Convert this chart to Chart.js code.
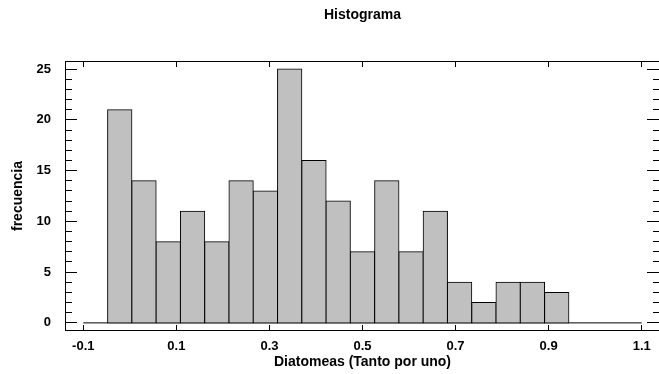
<!DOCTYPE html>
<html><head><meta charset="utf-8">
<script src="https://cdn.jsdelivr.net/npm/chart.js@4/dist/chart.umd.min.js"></script>
<style>html,body{margin:0;padding:0;background:#fff}</style>
</head><body>
<canvas id="c" width="659" height="374" style="display:block;width:659px;height:374px"></canvas>
<script>
// ---- data ----
const binCenters = [-0.0739, -0.0217, 0.0304, 0.0826, 0.1348, 0.1870, 0.2391, 0.2913,
  0.3435, 0.3957, 0.4478, 0.5000, 0.5522, 0.6043, 0.6565, 0.7087, 0.7609, 0.8130,
  0.8652, 0.9174, 0.9696, 1.0217, 1.0739];
const frequencies = [0, 21, 14, 8, 11, 8, 14, 13, 25, 16, 12, 7, 14, 7, 11, 4, 2, 4, 4, 3, 0, 0, 0];
const histRange = [-0.1, 1.1];
const xTickValues = [-0.1, 0.1, 0.3, 0.5, 0.7, 0.9, 1.1];
const yTickValues = [0, 5, 10, 15, 20, 25];
const yMinorTickValues = [0, 1, 2, 3, 4, 5, 6, 7, 8, 9, 10, 11, 12, 13, 14, 15, 16, 17, 18, 19, 20, 21, 22, 23, 24, 25];
const chartTitle = 'Histograma';
const xTitle = 'Diatomeas (Tanto por uno)';
const yTitle = 'frecuencia';

const FONT = "'Liberation Sans', Arial, Helvetica, sans-serif";

const frameTicks = {
  id: 'frameTicks',
  afterDatasetsDraw(chart) {
    const {ctx, chartArea: a, scales: {x, y}} = chart;
    ctx.save();
    ctx.strokeStyle = '#000';
    ctx.lineWidth = 1;
    ctx.beginPath();
    // frame: left, bottom, top
    ctx.moveTo(a.left - 0.5, a.top); ctx.lineTo(a.left - 0.5, a.bottom);
    ctx.moveTo(a.left - 1, a.bottom - 0.5); ctx.lineTo(a.right, a.bottom - 0.5);
    ctx.moveTo(a.left - 1, a.top + 0.5); ctx.lineTo(a.right, a.top + 0.5);
    yMinorTickValues.forEach(v => {
      const p = Math.floor(y.getPixelForValue(v)) + 0.5;
      const major = yTickValues.includes(v);
      ctx.moveTo(a.left, p); ctx.lineTo(a.left + (major ? 11 : 6), p);
      ctx.moveTo(a.right, p); ctx.lineTo(a.right - (major ? 12 : 6), p);
    });
    xTickValues.forEach(v => {
      const p = Math.floor(x.getPixelForValue(v)) + 0.5;
      ctx.moveTo(p, a.bottom); ctx.lineTo(p, a.bottom - 6);
      ctx.moveTo(p, a.top); ctx.lineTo(p, a.top + 6);
    });
    ctx.stroke();
    ctx.restore();
  }
};

new Chart(document.getElementById('c'), {
  data: {
    datasets: [
      {
        type: 'bar',
        order: 1,
        data: binCenters.map((c, i) => ({x: c, y: frequencies[i]})),
        backgroundColor: '#c0c0c0',
        borderColor: '#000',
        borderWidth: 1,
        borderSkipped: false,
        inflateAmount: 0.5,
        barPercentage: 1,
        categoryPercentage: 1
      },
      {
        type: 'line',
        order: 2,
        data: histRange.map(v => ({x: v, y: 0})),
        borderColor: '#000',
        borderWidth: 1,
        pointRadius: 0,
        fill: false
      }
    ]
  },
  options: {
    responsive: false,
    animation: false,
    events: [],
    layout: {padding: 0},
    plugins: {
      legend: {display: false},
      tooltip: {enabled: false},
      title: {
        display: true,
        text: chartTitle,
        fullSize: false,
        color: '#000',
        font: {family: FONT, size: 14, weight: 'bold', lineHeight: 1.2},
        padding: {top: 6.75, bottom: 37.45}
      }
    },
    scales: {
      x: {
        type: 'linear',
        offset: false,
        min: -0.1372,
        max: 1.1372,
        grid: {display: false, offset: false},
        border: {display: false},
        afterBuildTicks: s => { s.ticks = xTickValues.map(v => ({value: v})); },
        afterFit: s => { s.height = 43; },
        ticks: {
          color: '#000',
          padding: 0,
          maxRotation: 0,
          autoSkip: false,
          font: {family: FONT, size: 13, weight: 'bold'},
          callback: v => String(v)
        },
        title: {
          display: true,
          text: xTitle,
          color: '#000',
          font: {family: FONT, size: 14, weight: 'bold', lineHeight: 1.2},
          padding: {top: 0, bottom: 3.6}
        }
      },
      y: {
        type: 'linear',
        min: -0.8,
        max: 25.8,
        grid: {display: false},
        border: {display: false},
        afterBuildTicks: s => { s.ticks = yTickValues.map(v => ({value: v})); },
        afterFit: s => { s.width = 66; },
        ticks: {
          color: '#000',
          padding: 7,
          autoSkip: false,
          font: {family: FONT, size: 13, weight: 'bold'},
          callback: v => String(v)
        },
        title: {
          display: true,
          text: yTitle,
          color: '#000',
          font: {family: FONT, size: 14, weight: 'bold', lineHeight: 1.2},
          padding: {top: 10, bottom: 0}
        }
      }
    }
  },
  plugins: [frameTicks]
});
</script>
</body></html>
